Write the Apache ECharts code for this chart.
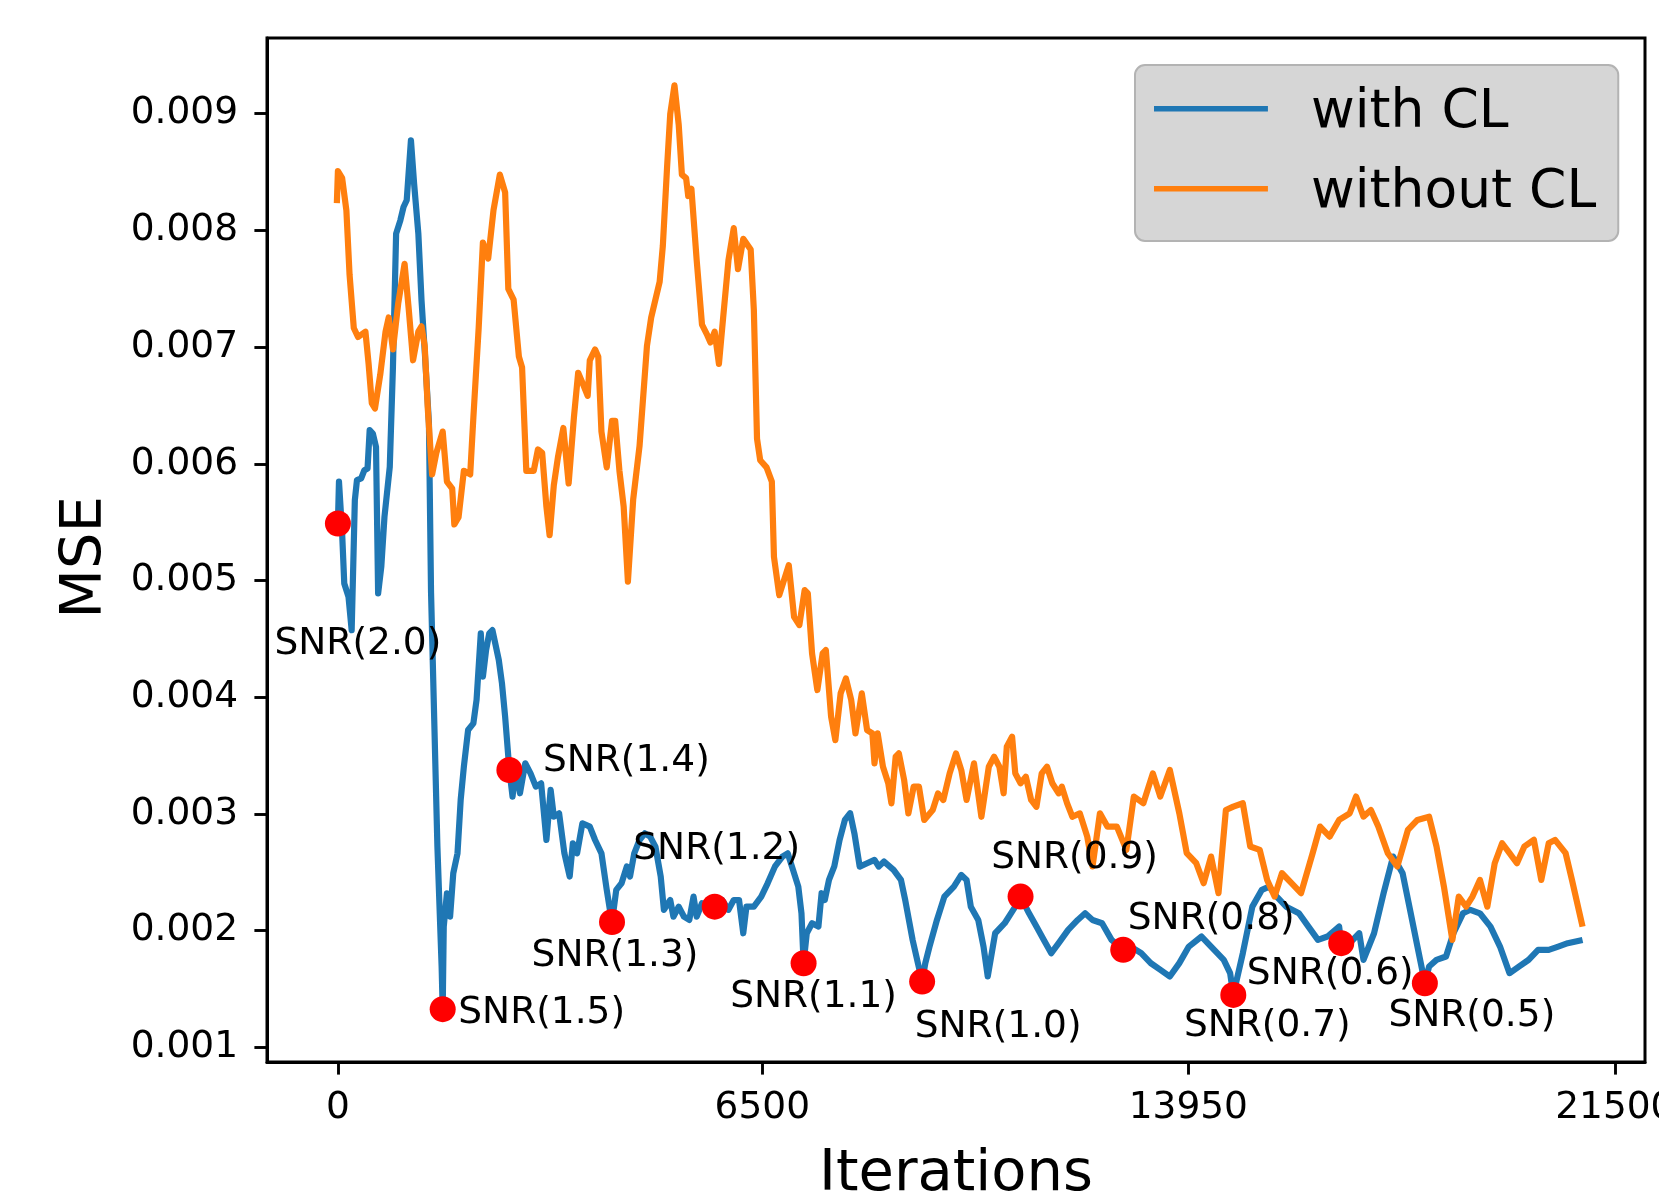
<!DOCTYPE html>
<html>
<head>
<meta charset="utf-8">
<script src="https://cdn.jsdelivr.net/npm/echarts@6/dist/echarts.min.js"></script>
<style>
html,body{margin:0;padding:0;background:#fff;}
#chart{width:1659px;height:1197px;}
</style>
</head>
<body>
<div id="chart"></div>
<script>
// x positions are in plot steps; ticks are labelled with iteration counts
const xTickPos = [0, 401, 803.5, 1206.5];
const xTickLabels = ['0', '6500', '13950', '21500'];
const yTickValues = [0.001, 0.002, 0.003, 0.004, 0.005, 0.006, 0.007, 0.008, 0.009];

const blueX = [0,1,4,6,10,13,16,18,22,25,28,30,33,36,38,41,44,49,52,55,59,62,65,69,72,76,79,82,86,88,91,94,98,99,100,103,106,109,113,116,119,123,128,131,135,137,140,143,146,152,155,158,162,165,168,172,177,182,187,192,197,201,204,209,214,219,222,226,231,238,243,249,254,257,259,263,268,273,276,280,285,290,295,300,305,308,314,317,322,327,332,336,339,344,356,363,369,374,379,383,386,393,400,406,413,420,425,430,435,438,440,443,448,454,457,460,464,469,474,479,484,488,493,500,507,511,516,525,532,536,543,548,552,555,559,566,573,582,589,594,598,605,610,614,621,630,640,645,653,660,667,674,681,690,699,706,713,722,731,742,749,759,768,777,786,795,804,816,825,837,843,846,855,864,873,880,887,896,908,917,926,935,946,948,956,965,969,979,988,997,1006,1013,1020,1027,1031,1038,1047,1054,1063,1070,1079,1089,1098,1107,1116,1125,1134,1144,1153,1162,1176];
const blueY = [0.005488,0.005848,0.005404,0.004975,0.004861,0.004575,0.005689,0.005860,0.005875,0.005945,0.005960,0.006288,0.006259,0.006145,0.004889,0.005118,0.005546,0.005974,0.006830,0.007972,0.008086,0.008200,0.008258,0.008772,0.008400,0.007972,0.007401,0.006972,0.006346,0.004897,0.003810,0.002723,0.001693,0.001328,0.002034,0.002320,0.002120,0.002492,0.002663,0.003121,0.003405,0.003719,0.003776,0.003977,0.004547,0.004176,0.004404,0.004547,0.004575,0.004319,0.004119,0.003833,0.003377,0.003149,0.003406,0.003177,0.003434,0.003348,0.003235,0.003263,0.002777,0.003206,0.002977,0.003005,0.002663,0.002464,0.002749,0.002663,0.002920,0.002891,0.002777,0.002663,0.002350,0.002179,0.002075,0.002350,0.002406,0.002551,0.002464,0.002663,0.002777,0.002834,0.002806,0.002720,0.002464,0.002179,0.002263,0.002120,0.002206,0.002120,0.002092,0.002292,0.002120,0.002235,0.002206,0.002263,0.002179,0.002263,0.002263,0.001978,0.002206,0.002206,0.002292,0.002406,0.002551,0.002635,0.002663,0.002521,0.002378,0.002149,0.001721,0.001978,0.002064,0.002035,0.002321,0.002263,0.002435,0.002551,0.002777,0.002949,0.003006,0.002834,0.002549,0.002578,0.002606,0.002549,0.002592,0.002521,0.002435,0.002263,0.001921,0.001722,0.001564,0.001722,0.001864,0.002092,0.002292,0.002378,0.002478,0.002435,0.002206,0.002092,0.001864,0.001608,0.001978,0.002064,0.002206,0.002292,0.002149,0.002035,0.001921,0.001807,0.001893,0.002007,0.002092,0.002149,0.002092,0.002064,0.001921,0.001836,0.001864,0.001807,0.001722,0.001665,0.001607,0.001722,0.001864,0.001950,0.001864,0.001750,0.001636,0.001450,0.001807,0.002206,0.002350,0.002378,0.002292,0.002206,0.002149,0.002035,0.001921,0.001950,0.002035,0.001893,0.001893,0.001978,0.001750,0.001978,0.002320,0.002635,0.002492,0.002179,0.001864,0.001550,0.001693,0.001750,0.001779,0.001978,0.002149,0.002179,0.002149,0.002035,0.001864,0.001636,0.001693,0.001750,0.001836,0.001836,0.001864,0.001893,0.001921];

const orangeX = [-1,0,4,8,11,15,19,26,29,32,35,40,45,48,52,57,63,67,71,76,79,82,85,89,93,99,103,108,110,114,119,125,128,133,137,142,147,153,158,161,166,171,174,178,185,189,193,197,200,204,208,213,218,223,227,232,236,238,243,246,249,254,259,262,266,270,274,279,285,292,296,304,307,311,314,318,322,325,329,331,334,339,344,349,352,356,360,364,369,374,378,383,390,393,396,399,405,410,412,417,426,431,436,441,444,448,453,458,461,466,470,475,480,485,489,495,500,505,507,510,515,520,523,527,530,535,539,544,549,554,562,567,572,578,584,589,594,601,608,615,620,625,629,632,637,640,645,650,655,660,665,670,675,681,684,689,694,701,708,713,720,727,736,745,752,761,770,777,786,795,802,811,818,825,832,839,846,855,862,871,878,885,892,901,910,921,928,937,946,956,962,969,976,983,992,1001,1011,1020,1031,1038,1045,1053,1059,1066,1072,1079,1086,1093,1100,1107,1114,1121,1130,1137,1144,1150,1160,1166,1176];
const orangeY = [0.008233,0.008508,0.008447,0.008172,0.007621,0.007163,0.007086,0.007132,0.006856,0.006520,0.006474,0.006765,0.007132,0.007254,0.006980,0.007376,0.007713,0.007316,0.006887,0.007132,0.007178,0.007010,0.006460,0.005909,0.006093,0.006276,0.005848,0.005787,0.005480,0.005542,0.005940,0.005909,0.006398,0.007163,0.007896,0.007759,0.008172,0.008478,0.008325,0.007499,0.007407,0.006918,0.006826,0.005940,0.005940,0.006123,0.006093,0.005633,0.005389,0.005816,0.006062,0.006307,0.005832,0.006398,0.006780,0.006673,0.006582,0.006887,0.006980,0.006918,0.006276,0.005969,0.006367,0.006367,0.005940,0.005633,0.004991,0.005695,0.006153,0.007010,0.007254,0.007560,0.007867,0.008539,0.008998,0.009243,0.008906,0.008478,0.008447,0.008294,0.008356,0.007743,0.007193,0.007102,0.007040,0.007132,0.006856,0.007254,0.007743,0.008019,0.007667,0.007927,0.007836,0.007316,0.006214,0.006031,0.005969,0.005848,0.005203,0.004875,0.005132,0.004689,0.004618,0.004918,0.004889,0.004375,0.004062,0.004375,0.004404,0.003833,0.003633,0.004033,0.004161,0.003976,0.003690,0.004033,0.003719,0.003690,0.003434,0.003690,0.003405,0.003263,0.003091,0.003491,0.003519,0.003291,0.003005,0.003234,0.003234,0.002949,0.003034,0.003176,0.003120,0.003348,0.003519,0.003376,0.003120,0.003434,0.002976,0.003405,0.003491,0.003405,0.003177,0.003576,0.003662,0.003348,0.003263,0.003319,0.003120,0.003062,0.003348,0.003405,0.003263,0.003177,0.003234,0.003091,0.002976,0.003005,0.002806,0.002550,0.003006,0.002892,0.002892,0.002692,0.003149,0.003092,0.003348,0.003149,0.003377,0.003006,0.002664,0.002578,0.002407,0.002635,0.002321,0.003034,0.003063,0.003092,0.002721,0.002692,0.002435,0.002293,0.002492,0.002407,0.002321,0.002664,0.002892,0.002806,0.002949,0.003006,0.003149,0.002977,0.003034,0.002892,0.002664,0.002550,0.002863,0.002949,0.002977,0.002721,0.002378,0.001921,0.002292,0.002206,0.002292,0.002435,0.002206,0.002578,0.002749,0.002664,0.002578,0.002721,0.002778,0.002435,0.002749,0.002778,0.002664,0.002435,0.002035];

const snrX = [0, 99, 162, 259, 356, 440, 552, 645, 742, 846, 948, 1027];
const snrY = [0.005488, 0.001328, 0.003377, 0.002075, 0.002206, 0.001721, 0.001564, 0.002292, 0.001836, 0.001450, 0.001893, 0.001550];
const snrLabels = ['SNR(2.0)','SNR(1.5)','SNR(1.4)','SNR(1.3)','SNR(1.2)','SNR(1.1)','SNR(1.0)','SNR(0.9)','SNR(0.8)','SNR(0.7)','SNR(0.6)','SNR(0.5)'];

// label placement relative to each marker (layout, px)
const labelOffsets = [[20,121],[99,4],[117,-9],[3,34],[2,-57],[10,34],[76,46],[54,-38],[88,-31],[34,31],[-11,31],[47,33]];

const FONT = 'DejaVu Sans';
const chart = echarts.init(document.getElementById('chart'), null, {renderer: 'canvas'});

function nearestIdx(arr, v) {
  let best = 0, bd = Infinity;
  arr.forEach((a, i) => { const d = Math.abs(a - v); if (d < bd) { bd = d; best = i; } });
  return best;
}

// legend line icon: a 5.4px bar at the top of a 14px-high icon box
const legendIcon = 'path://M0,0L114,0L114,5.4L0,5.4Z M0,14L0.01,14L0.01,14.01Z';

const option = {
  animation: false,
  backgroundColor: '#fff',
  textStyle: {fontFamily: FONT},
  grid: {
    left: 267, right: 14, top: 38, bottom: 135,
    containLabel: false, outerBoundsMode: 'none',
    show: true, borderColor: '#000', borderWidth: 3, backgroundColor: 'transparent'
  },
  legend: {
    orient: 'vertical',
    left: 1135, top: 65,
    data: ['with CL', 'without CL'],
    icon: legendIcon,
    itemWidth: 114, itemHeight: 14, itemGap: 20,
    padding: [18, 22, 18, 19],
    backgroundColor: '#d6d6d6',
    borderColor: '#b3b3b3', borderWidth: 2, borderRadius: 10,
    textStyle: {fontFamily: FONT, fontSize: 53.5, lineHeight: 60, color: '#000', padding: [0, 0, 0, 38]}
  },
  xAxis: {
    type: 'value',
    min: -67, max: 1235,
    name: 'Iterations', nameLocation: 'middle', nameGap: 84,
    nameTextStyle: {fontFamily: FONT, fontSize: 57.5, color: '#000'},
    axisLine: {show: true, onZero: false, lineStyle: {color: '#000', width: 3}},
    axisTick: {show: true, inside: false, length: 12.6, customValues: xTickPos, lineStyle: {color: '#000', width: 2.9}},
    axisLabel: {
      show: true, customValues: xTickPos, margin: 27,
      fontFamily: FONT, fontSize: 37.5, color: '#000',
      formatter: v => xTickLabels[nearestIdx(xTickPos, v)]
    },
    splitLine: {show: false}
  },
  yAxis: {
    type: 'value',
    min: 0.000875, max: 0.009648,
    name: 'MSE', nameLocation: 'middle', nameGap: 152, nameRotate: 90,
    nameTextStyle: {fontFamily: FONT, fontSize: 57.5, color: '#000', padding: [0, 15, 0, 0]},
    axisLine: {show: true, onZero: false, lineStyle: {color: '#000', width: 3}},
    axisTick: {show: true, inside: false, length: 12.6, customValues: yTickValues, lineStyle: {color: '#000', width: 2.9}},
    axisLabel: {
      show: true, customValues: yTickValues, margin: 29,
      fontFamily: FONT, fontSize: 37.5, color: '#000', padding: [10, 0, 0, 0],
      formatter: v => Number(v).toFixed(3)
    },
    splitLine: {show: false}
  },
  series: [
    {
      name: 'with CL', type: 'line',
      data: blueX.map((x, i) => [x, blueY[i]]),
      showSymbol: false, symbol: 'none',
      lineStyle: {color: '#1f77b4', width: 6.2, join: 'round'},
      itemStyle: {color: '#1f77b4'},
      z: 2
    },
    {
      name: 'without CL', type: 'line',
      data: orangeX.map((x, i) => [x, orangeY[i]]),
      showSymbol: false, symbol: 'none',
      lineStyle: {color: '#ff7f0e', width: 6.2, join: 'round'},
      itemStyle: {color: '#ff7f0e'},
      z: 3
    },
    {
      name: 'SNR', type: 'scatter',
      data: snrX.map((x, i) => ({
        value: [x, snrY[i]],
        label: {offset: labelOffsets[i]}
      })),
      symbol: 'circle', symbolSize: 26,
      itemStyle: {color: '#ff0000', opacity: 1},
      label: {
        show: true, position: 'inside', align: 'center', verticalAlign: 'middle',
        fontFamily: FONT, fontSize: 37.5, color: '#000',
        formatter: p => snrLabels[p.dataIndex]
      },
      emphasis: {disabled: true},
      z: 4
    }
  ]
};
chart.setOption(option);
</script>
</body>
</html>
